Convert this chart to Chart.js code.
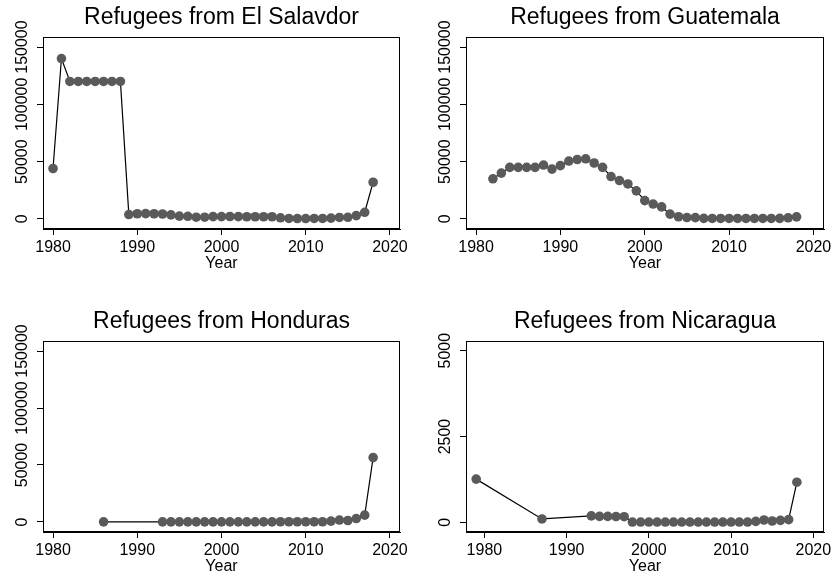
<!DOCTYPE html>
<html>
<head>
<meta charset="utf-8">
<title>Refugees from Central America</title>
<script src="https://cdn.jsdelivr.net/npm/chart.js@4.4.0/dist/chart.umd.min.js"></script>
<style>
  body { margin: 0; background: #fff; overflow: hidden; }
  canvas { position: absolute; }
</style>
</head>
<body>
<canvas id="salvadorCanvas" width="418" height="290" style="left:0px;top:0px"></canvas>
<canvas id="guatemalaCanvas" width="419" height="290" style="left:418px;top:0px"></canvas>
<canvas id="hondurasCanvas" width="418" height="290" style="left:0px;top:290px"></canvas>
<canvas id="nicaraguaCanvas" width="419" height="290" style="left:418px;top:290px"></canvas>
<script>
// tick labels
const xTicks = [1980, 1990, 2000, 2010, 2020];
const bigTicks = [0, 50000, 100000, 150000];
const smallTicks = [0, 2500, 5000];

// El Salvador
const salvadorYears = [1980, 1981, 1982, 1983, 1984, 1985, 1986, 1987, 1988, 1989,
    1990, 1991, 1992, 1993, 1994, 1995, 1996, 1997, 1998, 1999,
    2000, 2001, 2002, 2003, 2004, 2005, 2006, 2007, 2008, 2009,
    2010, 2011, 2012, 2013, 2014, 2015, 2016, 2017, 2018];
const salvadorValues = [44000, 140000, 120000, 120000, 120000, 120000, 120000, 120000, 120000, 3800,
    4500, 4600, 4500, 4300, 3500, 2400, 2300, 1500, 1500, 2000,
    2000, 2100, 2000, 1900, 1900, 1900, 1900, 1000, 400, 300,
    300, 400, 400, 700, 1300, 1400, 2900, 5800, 32000];

// Guatemala
const guatemalaYears = [1982, 1983, 1984, 1985, 1986, 1987, 1988, 1989,
    1990, 1991, 1992, 1993, 1994, 1995, 1996, 1997, 1998, 1999,
    2000, 2001, 2002, 2003, 2004, 2005, 2006, 2007, 2008, 2009,
    2010, 2011, 2012, 2013, 2014, 2015, 2016, 2017, 2018];
const guatemalaValues = [35000, 40000, 45000, 45000, 45000, 45000, 47000, 43500,
    46500, 50500, 51800, 52500, 48800, 45000, 37000, 33500, 30500, 24500,
    16000, 13000, 10500, 4200, 1900, 1200, 1100, 500, 400, 400,
    400, 400, 400, 400, 400, 400, 500, 1000, 1800];

// Honduras
const hondurasYears = [1986, 1993, 1994, 1995, 1996, 1997, 1998, 1999,
    2000, 2001, 2002, 2003, 2004, 2005, 2006, 2007, 2008, 2009,
    2010, 2011, 2012, 2013, 2014, 2015, 2016, 2017, 2018];
const hondurasValues = [100, 100, 100, 100, 100, 100, 100, 100,
    100, 100, 100, 100, 100, 100, 100, 200, 200, 200,
    200, 200, 200, 700, 1700, 1300, 3000, 6000, 56500];

// Nicaragua
const nicaraguaYears = [1979, 1987, 1993, 1994, 1995, 1996, 1997, 1998, 1999,
    2000, 2001, 2002, 2003, 2004, 2005, 2006, 2007, 2008, 2009,
    2010, 2011, 2012, 2013, 2014, 2015, 2016, 2017, 2018];
const nicaraguaValues = [1260, 100, 190, 175, 175, 170, 165, 10, 10,
    10, 10, 10, 10, 10, 10, 10, 10, 10, 10,
    10, 10, 10, 30, 70, 40, 60, 80, 1170];

const fontFamily = '"Liberation Sans", Arial, Helvetica, sans-serif';

// draws the box round the plot and the rotated y labels
const frameAndYLabels = {
    id: 'frameAndYLabels',
    afterDraw(chart) {
        const ctx = chart.ctx;
        const a = chart.chartArea;
        const yScale = chart.scales.y;
        ctx.save();
        ctx.strokeStyle = '#000';
        ctx.lineWidth = 1;
        const l = Math.round(a.left) + 0.5, t = Math.round(a.top) + 0.5;
        const r = Math.round(a.right) - 0.5, b = Math.round(a.bottom) - 0.5;
        ctx.strokeRect(l, t, r - l, b - t);
        ctx.fillStyle = '#000';
        ctx.font = '16px ' + fontFamily;
        ctx.textAlign = 'center';
        ctx.textBaseline = 'middle';
        yScale.ticks.forEach(tick => {
            ctx.save();
            ctx.translate(yScale.right - 20, yScale.getPixelForValue(tick.value));
            ctx.rotate(-Math.PI / 2);
            ctx.fillText(String(tick.value), 0, 0);
            ctx.restore();
        });
        ctx.restore();
    }
};

function makeChart(canvasId, title, years, values, yTicks, yMin, yMax, xMin, xMax, pad, yWidth) {
    const points = years.map((yr, i) => ({ x: yr, y: values[i] }));
    return new Chart(document.getElementById(canvasId), {
        type: 'line',
        data: {
            datasets: [{
                data: points,
                borderColor: '#000',
                borderWidth: 1.2,
                tension: 0,
                pointRadius: 4.8,
                pointBorderWidth: 0,
                pointBackgroundColor: '#5a5a5a',
                pointBorderColor: '#5a5a5a'
            }]
        },
        options: {
            responsive: false,
            animation: false,
            layout: { padding: pad },
            plugins: {
                legend: { display: false },
                tooltip: { enabled: false },
                title: {
                    display: true,
                    text: title,
                    fullSize: false,
                    color: '#000',
                    font: { family: fontFamily, size: 23, weight: 'normal' },
                    padding: { top: 4, bottom: 5.5 }
                }
            },
            scales: {
                x: {
                    type: 'linear',
                    min: xMin,
                    max: xMax,
                    afterBuildTicks: s => { s.ticks = xTicks.map(v => ({ value: v })); },
                    afterFit: s => { s.height = 46; },
                    grid: { drawOnChartArea: false, drawTicks: true, tickLength: 6, color: '#000' },
                    border: { color: '#000', width: 1 },
                    ticks: {
                        color: '#000',
                        font: { family: fontFamily, size: 16 },
                        padding: 3,
                        maxRotation: 0,
                        autoSkip: false,
                        callback: v => String(v)
                    },
                    title: {
                        display: true,
                        text: 'Year',
                        color: '#000',
                        font: { family: fontFamily, size: 16 },
                        padding: { top: 0, bottom: 2 }
                    }
                },
                y: {
                    min: yMin,
                    max: yMax,
                    afterBuildTicks: s => { s.ticks = yTicks.map(v => ({ value: v })); },
                    afterFit: s => { s.width = yWidth; },
                    grid: { drawOnChartArea: false, drawTicks: true, tickLength: 6, color: '#000' },
                    border: { color: '#000', width: 1 },
                    ticks: { display: false, callback: v => String(v) }
                }
            }
        },
        plugins: [frameAndYLabels]
    });
}

makeChart('salvadorCanvas', 'Refugees from El Salavdor', salvadorYears, salvadorValues,
    bigTicks, -8800, 158700, 1978.81, 2021.19, { left: 0, right: 18, top: 0, bottom: 15 }, 43);
makeChart('guatemalaCanvas', 'Refugees from Guatemala', guatemalaYears, guatemalaValues,
    bigTicks, -8800, 158700, 1978.81, 2021.25, { left: 0, right: 13, top: 0, bottom: 15 }, 48);
makeChart('hondurasCanvas', 'Refugees from Honduras', hondurasYears, hondurasValues,
    bigTicks, -8800, 158700, 1978.81, 2021.19, { left: 0, right: 18, top: 14, bottom: 2 }, 43);
makeChart('nicaraguaCanvas', 'Refugees from Nicaragua', nicaraguaYears, nicaraguaValues,
    smallTicks, -280, 5280, 1977.76, 2021.3, { left: 0, right: 13, top: 14, bottom: 2 }, 48);
</script>
</body>
</html>
